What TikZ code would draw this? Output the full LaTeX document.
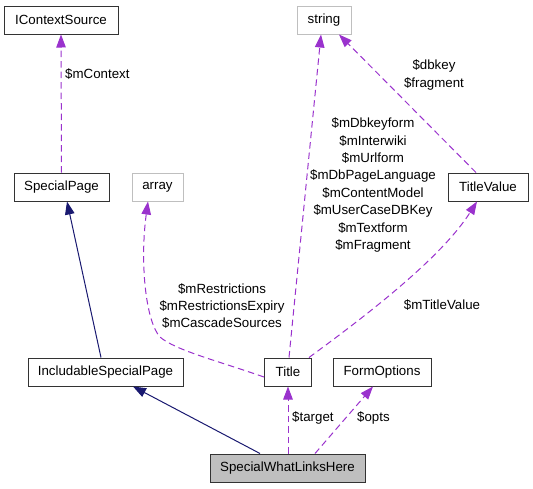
\documentclass[tikz,border=0pt]{standalone}
\usepackage{fontspec}
\setmainfont{Liberation Sans}
\usetikzlibrary{arrows.meta}
\definecolor{edgepurple}{HTML}{9A32CD}
\definecolor{edgenavy}{HTML}{191970}
\definecolor{extgray}{HTML}{BFBFBF}
\begin{document}
\begin{tikzpicture}[x=1pt,y=-1pt,
 every node/.style={font=\fontsize{13.3}{17.4}\selectfont, inner sep=0pt},
 cls/.style={draw=black!80, line width=1pt, minimum height=28pt, fill=white},
 ext/.style={draw=extgray, line width=1pt, minimum height=28pt, fill=white},
 cur/.style={cls, fill=extgray},
 inh/.style={draw=edgenavy, line width=1pt, -{Triangle[length=13pt,width=9.5pt]}},
 use/.style={draw=edgepurple, line width=1pt, dash pattern=on 6.5pt off 4pt, -{Triangle[length=13pt,width=9.5pt]}},
 lbl/.style={align=center}]
\useasboundingbox (0,0) rectangle (533,488);
% nodes
\node[cls, minimum width=114pt] (ics) at (61,20) {IContextSource};
\node[cls, minimum width=95pt] (sp) at (61.5,187) {SpecialPage};
\node[ext, minimum width=51pt] (arr) at (157.5,187) {array};
\node[ext, minimum width=54pt] (str) at (324,20) {string};
\node[cls, minimum width=80pt] (tv) at (488,187) {TitleValue};
\node[cls, minimum width=155pt] (isp) at (105.5,372) {IncludableSpecialPage};
\node[cls, minimum width=47pt] (title) at (288,372) {Title};
\node[cls, minimum width=98pt] (fo) at (382,372) {FormOptions};
\node[cur, minimum width=155pt] (swlh) at (287.5,468) {SpecialWhatLinksHere};
% edges
\draw[use] (sp.north) -- (ics.south);
\node[anchor=west] (lctx) at (65,74) {\$mContext};
\draw[inh] ([xshift=-4.5pt]isp.north) -- ([xshift=5.5pt]sp.south);
\draw[inh] ([xshift=-27.5pt]swlh.north) -- ([xshift=27.5pt]isp.south);
\draw[use] ([xshift=0.5pt]swlh.north) -- (title.south);
\node[anchor=west] (ltarget) at (292,418) {\$target};
\draw[use] ([xshift=27.5pt]swlh.north) -- ([xshift=-9pt]fo.south);
\node[anchor=west] (lopts) at (357,418) {\$opts};
\draw[use] ([xshift=1pt]title.north) -- ([xshift=-3pt]str.south);
\node[lbl] (lstr) at (373,185) {\$mDbkeyform\\\$mInterwiki\\\$mUrlform\\\$mDbPageLanguage\\\$mContentModel\\\$mUserCaseDBKey\\\$mTextform\\\$mFragment};
\draw[use] ([xshift=-12pt]tv.north) -- ([xshift=15pt]str.south);
\node[lbl] (ltvstr) at (434,75) {\$dbkey\\\$fragment};
\draw[use] ([xshift=21pt]title.north) .. controls (360,320) and (440,260) .. ([xshift=-11pt]tv.south);
\node[lbl] (ltv) at (442,305) {\$mTitleValue};
\coordinate (bend) at (160,337);
\draw[use] ([yshift=-5pt]title.west) .. controls (215,360) and (175,350) .. (bend) .. controls (145,320) and (140,260) .. ([xshift=-9.5pt]arr.south);
\node[lbl] (larr) at (222,306) {\$mRestrictions\\\$mRestrictionsExpiry\\\$mCascadeSources};
\end{tikzpicture}
\end{document}
